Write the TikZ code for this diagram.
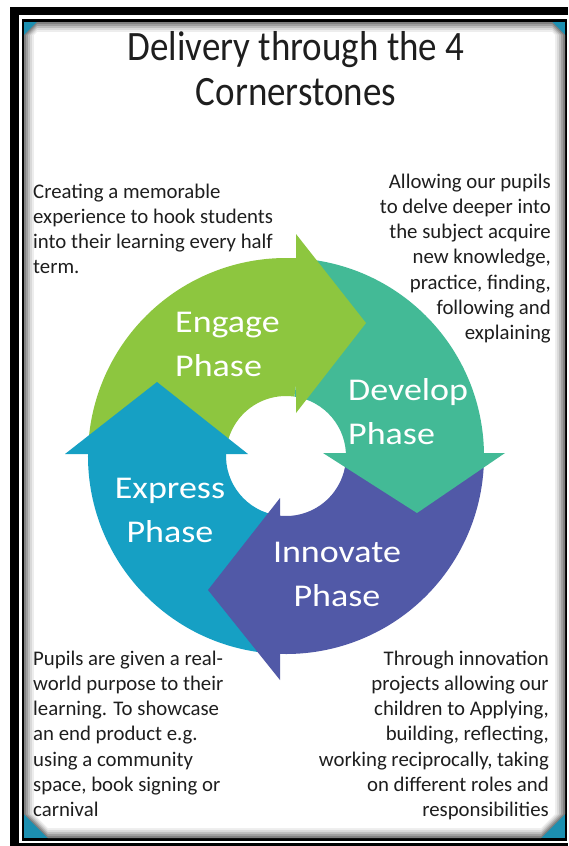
\documentclass[tikz,border=0pt]{standalone}
\usepackage{fontspec}
\setmainfont{Carlito}
\usepackage{graphicx}
\definecolor{engage}{HTML}{8DC63F}
\definecolor{develop}{HTML}{43BA96}
\definecolor{innovate}{HTML}{5159A7}
\definecolor{express}{HTML}{16A0C4}
\definecolor{corner}{HTML}{1C8FB0}
\definecolor{ink}{HTML}{1E1E1E}
\newcommand{\cardpath}[1]{%
  (24+#1,35) -- (37,22+#1) -- (552,22+#1) -- (565-#1,35) --
  (565-#1,814) -- (541,838-#1) -- (48,838-#1) -- (24+#1,814) -- cycle}
\begin{document}
\begin{tikzpicture}[x=1pt,y=-1pt,
  bodytext/.style={font=\fontsize{20.8}{25.3}\selectfont, text=ink, inner sep=0pt},
  phasetext/.style={font=\fontsize{36}{51}\selectfont, text=white, inner sep=0pt},
  titletext/.style={font=\fontsize{37}{40}\selectfont, text=ink, inner sep=0pt}]
\useasboundingbox (0,0) rectangle (568,846);
% frame
\fill[black] (10,7) rectangle (568,846);
\fill[white] (19,15) rectangle (568,843);
\fill[black] (22,19) rectangle (567,841);
\fill[corner] (24,22) rectangle (565,838);
% card with soft shadow edge
\foreach \d/\s in {0/50,2/38,4/26,6/15,8/7,10/0}{
  \fill[black!\s!white] \cardpath{\d};
}
% ring
\begin{scope}[shift={(286,456)}]
  \fill[develop] (278:198) arc[start angle=278, end angle=362, radius=198]
     -- (362:60) arc[start angle=362, end angle=278, radius=60] -- cycle;
  \fill[innovate] (3:198) arc[start angle=3, end angle=96, radius=198]
     -- (96:60) arc[start angle=96, end angle=3, radius=60] -- cycle;
  \fill[express] (97:198) arc[start angle=97, end angle=184, radius=198]
     -- (184:60) arc[start angle=184, end angle=97, radius=60] -- cycle;
  \fill[engage] (184:198) arc[start angle=184, end angle=278, radius=198]
     -- (278:60) arc[start angle=278, end angle=184, radius=60] -- cycle;
\end{scope}
% arrow heads
\fill[engage] (296,234) -- (366,323) -- (296,413) -- cycle;
\fill[develop] (323,453) -- (505,453) -- (417,513) -- cycle;
\fill[innovate] (280,498) -- (208,590) -- (280,680) -- cycle;
\fill[express] (65,454) -- (157,382) -- (248,454) -- cycle;
% title
\node[titletext, anchor=base] (title) at (296,60)
  {\scalebox{1}[1.13]{\begin{tabular}[t]{@{}c@{}}Delivery through the 4\\Cornerstones\end{tabular}}};
% phase labels
\node[phasetext, anchor=base west] (engage) at (175,332)
  {\scalebox{1}[0.88]{\begin{tabular}[t]{@{}l@{}}Engage\\Phase\end{tabular}}};
\node[phasetext, anchor=base west] (develop) at (348,400)
  {\scalebox{1}[0.88]{\begin{tabular}[t]{@{}l@{}}Develop\\Phase\end{tabular}}};
\node[phasetext, anchor=base] (express) at (170,498)
  {\scalebox{1}[0.88]{\begin{tabular}[t]{@{}c@{}}Express\\Phase\end{tabular}}};
\node[phasetext, anchor=base] (innovate) at (337,562)
  {\scalebox{1}[0.88]{\begin{tabular}[t]{@{}c@{}}Innovate\\Phase\end{tabular}}};
% descriptions
\node[bodytext, anchor=base west] (tl) at (33,198)
  {\begin{tabular}[t]{@{}l@{}}Creating a memorable\\experience to hook students\\into their learning every half\\term.\end{tabular}};
\node[bodytext, anchor=base east] (tr) at (551,188)
  {\begin{tabular}[t]{@{}r@{}}Allowing our pupils\\to delve deeper into\\the subject acquire\\new knowledge,\\practice, finding,\\following and\\explaining\end{tabular}};
\node[bodytext, anchor=base west] (bl) at (33,665)
  {\begin{tabular}[t]{@{}l@{}}Pupils are given a real-\\world purpose to their\\learning. To showcase\\an end product e.g.\\using a community\\space, book signing or\\carnival\end{tabular}};
\node[bodytext, anchor=base east] (br) at (549,665)
  {\begin{tabular}[t]{@{}r@{}}Through innovation\\projects allowing our\\children to Applying,\\building, reflecting,\\working reciprocally, taking\\on different roles and\\responsibilities\end{tabular}};
\end{tikzpicture}
\end{document}
